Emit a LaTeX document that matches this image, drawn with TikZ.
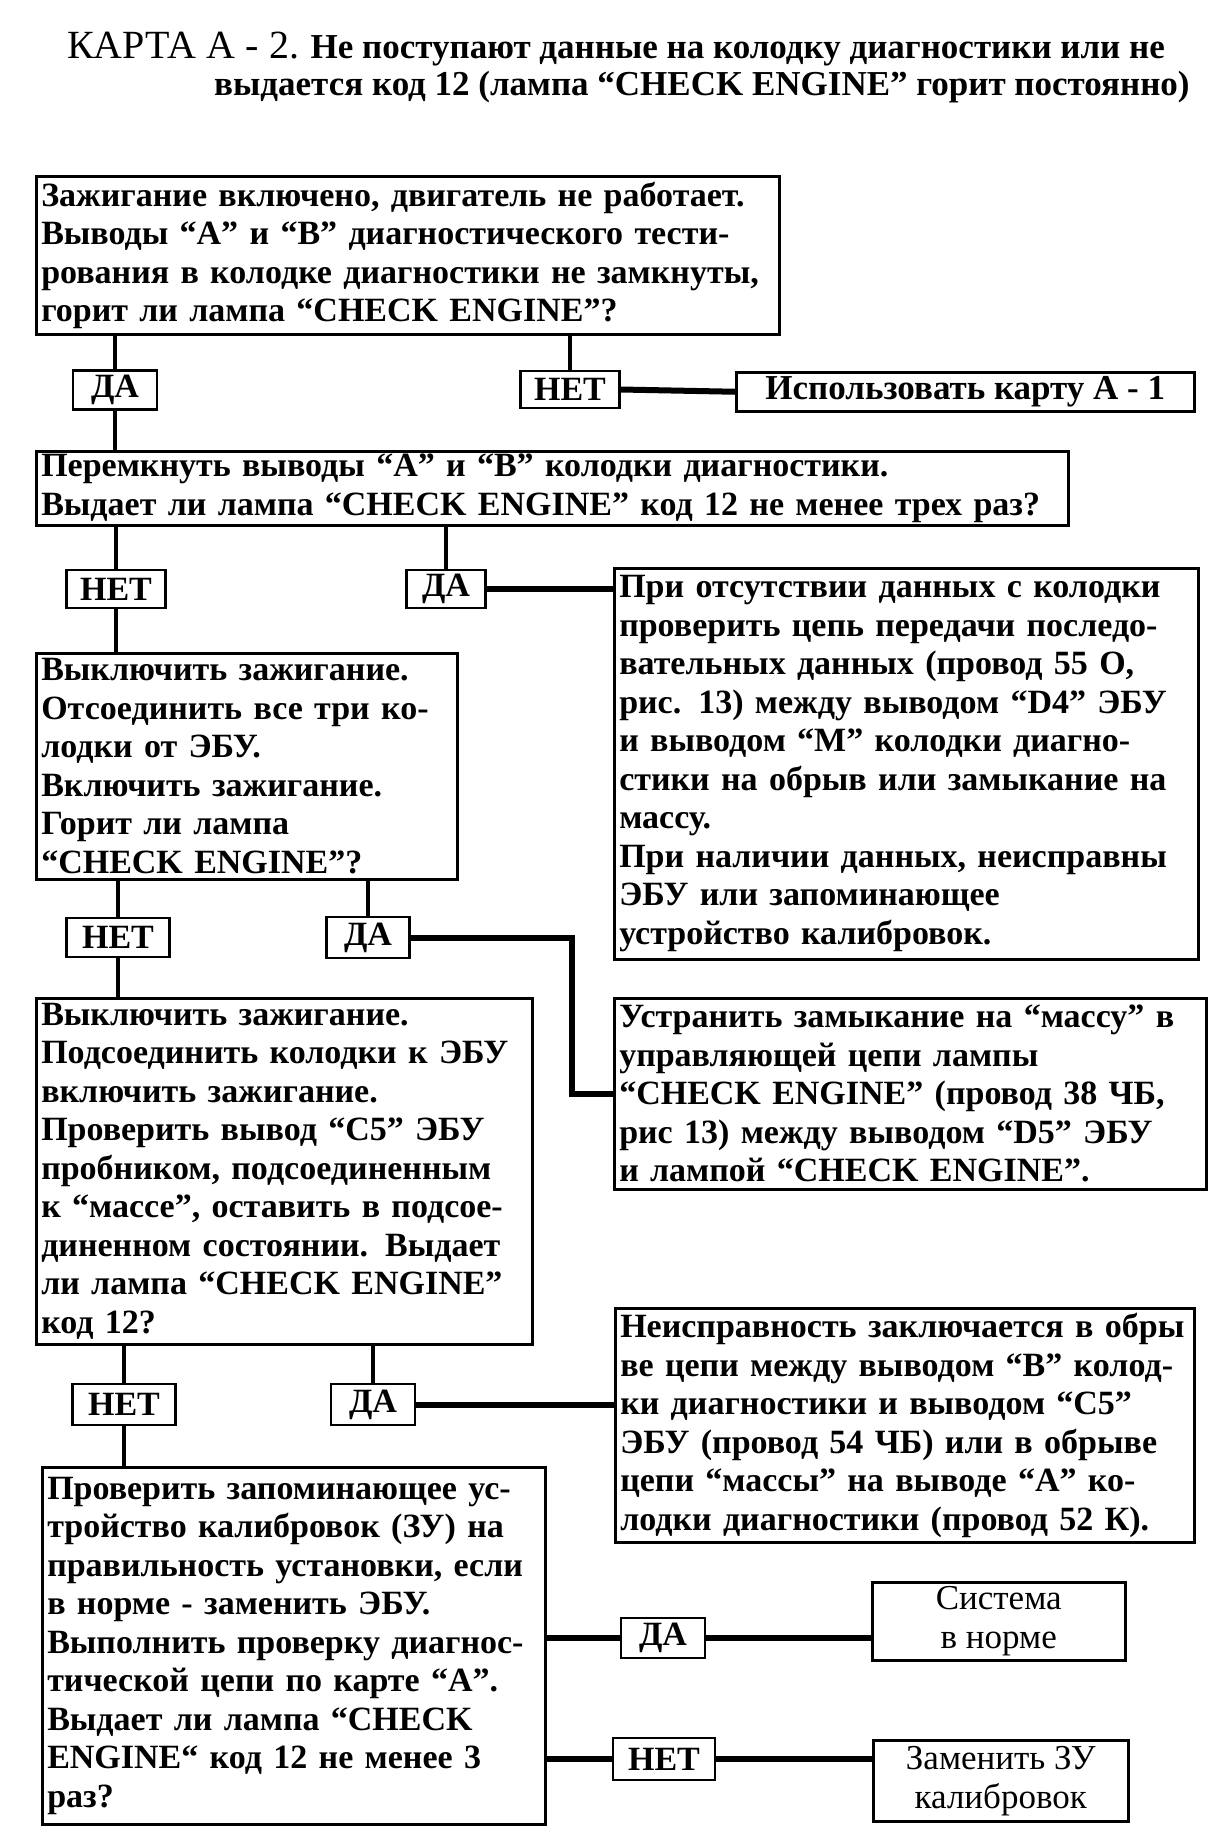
\documentclass[tikz,border=0pt]{standalone}
\usepackage{fontspec}
\setmainfont{Liberation Serif}
\usetikzlibrary{positioning}

\tikzset{
  blok/.style={draw, line width=2.5pt, anchor=north west, align=left,
    inner xsep=5pt, inner ysep=1pt,
    font=\bfseries\fontsize{34}{38.5}\selectfont},
  otvet/.style={draw, line width=2.5pt, inner sep=0pt,
    font=\bfseries\fontsize{34}{38}\selectfont},
  itog/.style={draw, line width=2.5pt, anchor=north west, align=center,
    inner sep=0pt, font=\fontsize{35}{39}\selectfont},
  vetka/.style={line width=4pt},
  shina/.style={line width=6pt}
}

\begin{document}
\begin{tikzpicture}[x=1pt,y=-1pt]
  \useasboundingbox (0,0) rectangle (1218,1834);
  % zagolovok
  \node[anchor=west, inner sep=0pt, font=\bfseries\fontsize{35}{40}\selectfont] (zag1) at (67,49)
    {{\mdseries\fontsize{40}{40}\selectfont КАРТА А - 2.} Не поступают данные на колодку диагностики или не};
  \node[anchor=west, inner sep=0pt, font=\bfseries\fontsize{35}{40}\selectfont] (zag2) at (214,87)
    {выдается код 12 (лампа “CHECK ENGINE” горит постоянно)};

  % levaya kolonka
  \node[blok, text width=733pt, minimum height=158pt] (b1) at (35,175)
    {Зажигание включено, двигатель не работает.\\
     Выводы “А” и “В” диагностического тести-\\
     рования в колодке диагностики не замкнуты,\\
     горит ли лампа “CHECK ENGINE”?};
  \node[blok, text width=1022pt, minimum height=74pt] (b2) at (35,450)
    {Перемкнуть выводы “А” и “В” колодки диагностики.\\
     Выдает ли лампа “CHECK ENGINE” код 12 не менее трех раз?};
  \node[blok, text width=411pt, minimum height=226pt] (b3) at (35,652)
    {Выключить зажигание.\\
     Отсоединить все три ко-\\
     лодки от ЭБУ.\\
     Включить зажигание.\\
     Горит ли лампа\\
     “CHECK ENGINE”?};
  \node[blok, text width=486pt, minimum height=346pt] (b4) at (35,997)
    {Выключить зажигание.\\
     Подсоединить колодки к ЭБУ\\
     включить зажигание.\\
     Проверить вывод “С5” ЭБУ\\
     пробником, подсоединенным\\
     к “массе”, оставить в подсое-\\
     диненном состоянии. Выдает\\
     ли лампа “CHECK ENGINE”\\
     код 12?};
  \node[blok, text width=493pt, minimum height=357pt] (b5) at (41,1466)
    {Проверить запоминающее ус-\\
     тройство калибровок (ЗУ) на\\
     правильность установки, если\\
     в норме - заменить ЭБУ.\\
     Выполнить проверку диагнос-\\
     тической цепи по карте “А”.\\
     Выдает ли лампа “CHECK\\
     ENGINE“ код 12 не менее 3\\
     раз?};

  % pravaya kolonka
  \node[itog, minimum width=458pt, minimum height=39pt, font=\bfseries\fontsize{35}{39}\selectfont] (isp) at (735,371)
    {Использовать карту А - 1};
  \node[blok, text width=574pt, minimum height=391pt] (pri) at (613,567)
    {При отсутствии данных с колодки\\
     проверить цепь передачи последо-\\
     вательных данных (провод 55 О,\\
     рис. 13) между выводом “D4” ЭБУ\\
     и выводом “М” колодки диагно-\\
     стики на обрыв или замыкание на\\
     массу.\\
     При наличии данных, неисправны\\
     ЭБУ или запоминающее\\
     устройство калибровок.};
  \node[blok, text width=582pt, minimum height=191pt] (ustr) at (613,997)
    {Устранить замыкание на “массу” в\\
     управляющей цепи лампы\\
     “CHECK ENGINE” (провод 38 ЧБ,\\
     рис 13) между выводом “D5” ЭБУ\\
     и лампой “CHECK ENGINE”.};
  \node[blok, text width=569pt, minimum height=234pt] (neispr) at (614,1307)
    {Неисправность заключается в обры\\
     ве цепи между выводом “В” колод-\\
     ки диагностики и выводом “С5”\\
     ЭБУ (провод 54 ЧБ) или в обрыве\\
     цепи “массы” на выводе “А” ко-\\
     лодки диагностики (провод 52 К).};
  \node[itog, minimum width=253pt, minimum height=78pt] (sis) at (871,1581)
    {Система\\в норме};
  \node[itog, minimum width=255pt, minimum height=81pt] (zam) at (872,1739)
    {Заменить ЗУ\\калибровок};

  % otvety
  \node[otvet, minimum width=84pt, minimum height=39pt] (d1) at (115,390) {ДА};
  \node[otvet, minimum width=99pt, minimum height=37pt] (n1) at (570,389.5) {НЕТ};
  \node[otvet, minimum width=99pt, minimum height=38pt] (n2) at (116,589) {НЕТ};
  \node[otvet, minimum width=79pt, minimum height=38pt] (d2) at (446,589) {ДА};
  \node[otvet, minimum width=103pt, minimum height=39pt] (n3) at (118,937.5) {НЕТ};
  \node[otvet, minimum width=83pt, minimum height=41pt] (d3) at (368,937.5) {ДА};
  \node[otvet, minimum width=103pt, minimum height=41pt] (n4) at (124,1404.5) {НЕТ};
  \node[otvet, minimum width=84pt, minimum height=41pt] (d4) at (373,1404.5) {ДА};
  \node[otvet, minimum width=84pt, minimum height=40pt] (d5) at (663,1638) {ДА};
  \node[otvet, minimum width=102pt, minimum height=42pt] (n5) at (664,1759) {НЕТ};

  % svyazi
  \draw[vetka] (d1.north |- b1.south) -- (d1.north);
  \draw[vetka] (d1.south) -- (d1.south |- b2.north);
  \draw[vetka] (n1.north |- b1.south) -- (n1.north);
  \draw[shina] (n1.east) -- (isp.west);
  \draw[vetka] (n2.north |- b2.south) -- (n2.north);
  \draw[vetka] (n2.south) -- (n2.south |- b3.north);
  \draw[vetka] (d2.north |- b2.south) -- (d2.north);
  \draw[shina] (d2.east) -- (d2.east -| pri.west);
  \draw[vetka] (n3.north |- b3.south) -- (n3.north);
  \draw[vetka] (n3.south) -- (n3.south |- b4.north);
  \draw[vetka] (d3.north |- b3.south) -- (d3.north);
  \coordinate (izgib) at (572,937.5);
  \draw[shina] (d3.east) -- (izgib) |- (ustr.west);
  \draw[vetka] (n4.north |- b4.south) -- (n4.north);
  \draw[vetka] (n4.south) -- (n4.south |- b5.north);
  \draw[vetka] (d4.north |- b4.south) -- (d4.north);
  \draw[shina] (d4.east) -- (d4.east -| neispr.west);
  \draw[shina] (d5.west -| b5.east) -- (d5.west);
  \draw[shina] (d5.east) -- (d5.east -| sis.west);
  \draw[shina] (n5.west -| b5.east) -- (n5.west);
  \draw[shina] (n5.east) -- (n5.east -| zam.west);
\end{tikzpicture}
\end{document}
